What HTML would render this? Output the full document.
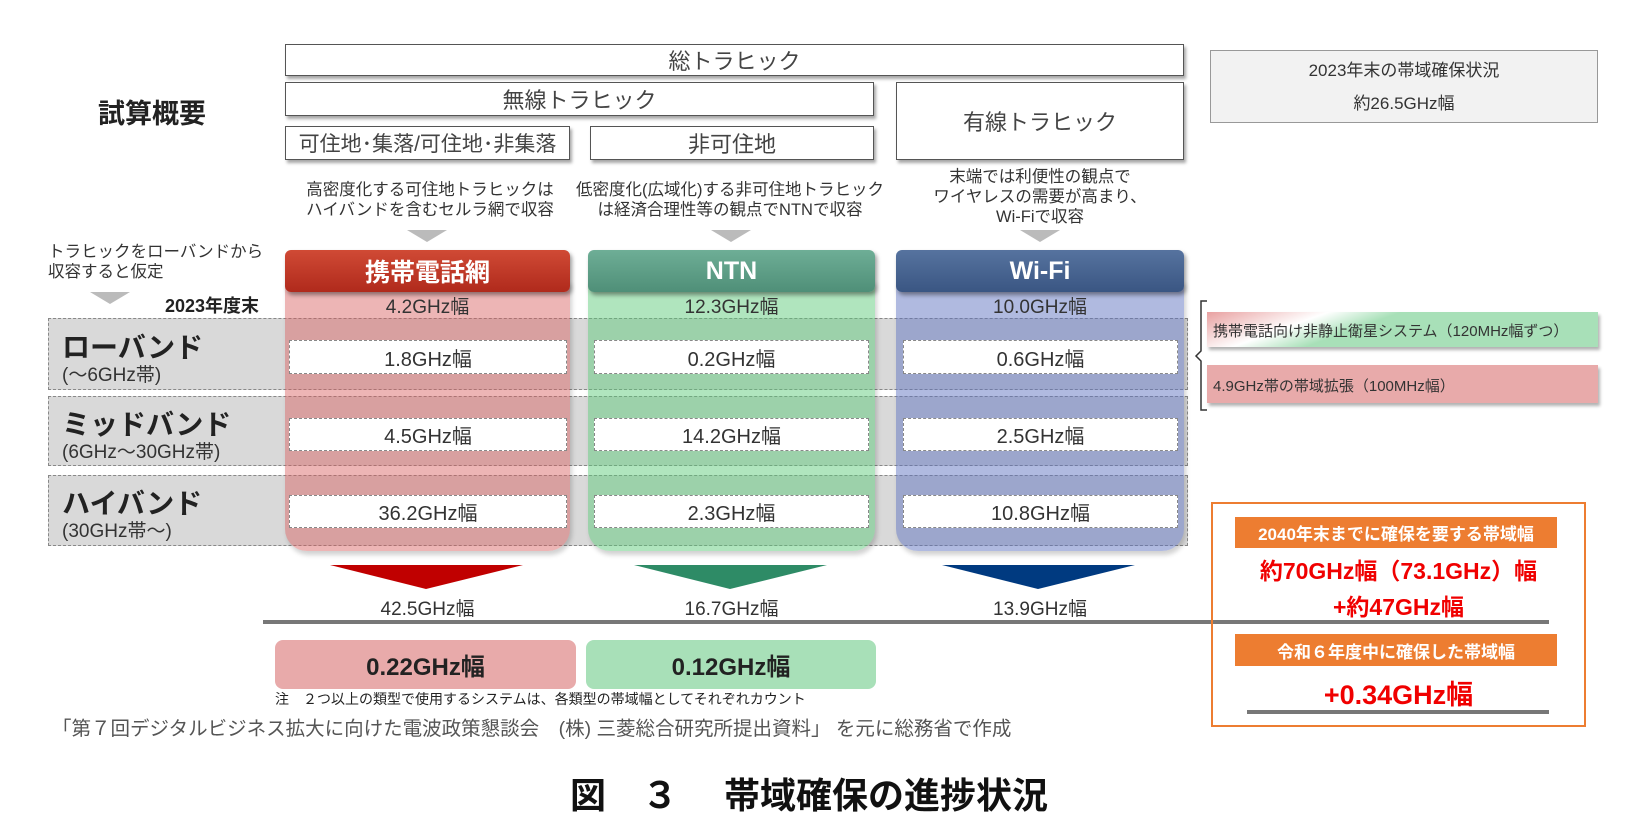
<!DOCTYPE html>
<html><head><meta charset="utf-8"><style>
body{margin:0;width:1638px;height:834px;background:#fff;position:relative;overflow:hidden;font-family:"Liberation Sans","Noto Sans CJK JP",sans-serif;color:#222}
.a{position:absolute;box-sizing:border-box}
.box{background:#fff;border:1.5px solid #555;box-shadow:2px 3px 3px rgba(0,0,0,.35);display:flex;align-items:center;justify-content:center;font-size:22px;color:#444}
.c{display:flex;align-items:center;justify-content:center;text-align:center}
.band{background:#d9d9d9;border:1px dashed #888}
.col{border-radius:0 0 22px 22px;box-shadow:2px 4px 5px rgba(0,0,0,.18)}
.hdr{border-radius:6px;color:#fff;font-size:25px;font-weight:bold;box-shadow:2px 3px 4px rgba(0,0,0,.4)}
.val{background:#fff;border:1px dashed #888;font-size:20px;color:#333}
.t{font-size:19px;color:#333}
.desc{font-size:16.5px;color:#333;line-height:20px;text-align:center}
.garr{width:0;height:0;border-left:20px solid transparent;border-right:20px solid transparent;border-top:12px solid #bbb}
</style></head><body>
<div class="a" style="left:98px;top:92px;font-size:27px;font-weight:bold;color:#222">試算概要</div>
<div class="a box" style="left:285px;top:44px;width:899px;height:32px">総トラヒック</div>
<div class="a box" style="left:285px;top:82px;width:589px;height:34px">無線トラヒック</div>
<div class="a box" style="left:896px;top:82px;width:288px;height:78px">有線トラヒック</div>
<div class="a box" style="left:285px;top:126px;width:285px;height:34px;font-size:21px">可住地･集落/可住地･非集落</div>
<div class="a box" style="left:590px;top:126px;width:284px;height:34px">非可住地</div>
<div class="a c" style="left:1210px;top:50px;width:388px;height:73px;background:#f2f2f2;border:1.5px solid #999;flex-direction:column;font-size:17px;color:#333;line-height:33px">2023年末の帯域確保状況<br>約26.5GHz幅</div>

<div class="a desc" style="left:280px;top:180px;width:300px">高密度化する可住地トラヒックは<br>ハイバンドを含むセルラ網で収容</div>
<div class="a desc" style="left:560px;top:180px;width:340px">低密度化(広域化)する非可住地トラヒック<br>は経済合理性等の観点でNTNで収容</div>
<div class="a desc" style="left:900px;top:167px;width:280px">末端では利便性の観点で<br>ワイヤレスの需要が高まり、<br>Wi-Fiで収容</div>
<div class="a garr" style="left:407px;top:230px"></div>
<div class="a garr" style="left:711px;top:230px"></div>
<div class="a garr" style="left:1020px;top:230px"></div>
<div class="a desc" style="left:48px;top:242px;width:230px;text-align:left">トラヒックをローバンドから<br>収容すると仮定</div>
<div class="a garr" style="left:90px;top:292px"></div>
<div class="a" style="left:165px;top:292px;font-size:18px;font-weight:bold">2023年度末</div>

<div class="a band" style="left:48px;top:318px;width:1140px;height:72px"></div>
<div class="a band" style="left:48px;top:396px;width:1140px;height:70px"></div>
<div class="a band" style="left:48px;top:475px;width:1140px;height:71px"></div>
<div class="a" style="left:62px;top:326px;font-size:28px;font-weight:bold;color:#222">ローバンド</div>
<div class="a" style="left:62px;top:360px;font-size:19px;color:#333">(～6GHz帯)</div>
<div class="a" style="left:62px;top:403px;font-size:28px;font-weight:bold;color:#222">ミッドバンド</div>
<div class="a" style="left:62px;top:437px;font-size:19px;color:#333">(6GHz～30GHz帯)</div>
<div class="a" style="left:62px;top:482px;font-size:28px;font-weight:bold;color:#222">ハイバンド</div>
<div class="a" style="left:62px;top:516px;font-size:19px;color:#333">(30GHz帯～)</div>

<div class="a col" style="left:285px;top:280px;width:285px;height:271px;background:rgba(215,90,90,.45)"></div>
<div class="a col" style="left:588px;top:280px;width:287px;height:271px;background:rgba(90,200,120,.48)"></div>
<div class="a col" style="left:896px;top:280px;width:288px;height:271px;background:rgba(90,110,190,.48)"></div>
<div class="a hdr c" style="left:285px;top:250px;width:285px;height:42px;background:linear-gradient(#d04a35,#b02a1c)">携帯電話網</div>
<div class="a hdr c" style="left:588px;top:250px;width:287px;height:42px;background:linear-gradient(#6eae96,#4f8f78)">NTN</div>
<div class="a hdr c" style="left:896px;top:250px;width:288px;height:42px;background:linear-gradient(#56739f,#3a5683)">Wi-Fi</div>

<div class="a t c" style="left:285px;top:292px;width:285px">4.2GHz幅</div>
<div class="a t c" style="left:588px;top:292px;width:287px">12.3GHz幅</div>
<div class="a t c" style="left:896px;top:292px;width:288px">10.0GHz幅</div>

<div class="a val c" style="left:289px;top:340px;width:278px;height:34px">1.8GHz幅</div>
<div class="a val c" style="left:594px;top:340px;width:275px;height:34px">0.2GHz幅</div>
<div class="a val c" style="left:903px;top:340px;width:275px;height:34px">0.6GHz幅</div>
<div class="a val c" style="left:289px;top:418px;width:278px;height:33px">4.5GHz幅</div>
<div class="a val c" style="left:594px;top:418px;width:275px;height:33px">14.2GHz幅</div>
<div class="a val c" style="left:903px;top:418px;width:275px;height:33px">2.5GHz幅</div>
<div class="a val c" style="left:289px;top:495px;width:278px;height:33px">36.2GHz幅</div>
<div class="a val c" style="left:594px;top:495px;width:275px;height:33px">2.3GHz幅</div>
<div class="a val c" style="left:903px;top:495px;width:275px;height:33px">10.8GHz幅</div>

<svg class="a" style="left:0;top:0" width="1638" height="834">
<polygon points="330,565 523,565 426,589" fill="#c00000"/>
<polygon points="634,565 827,565 730,589" fill="#2e8b66"/>
<polygon points="942,565 1135,565 1038,589" fill="#003a80"/>
<line x1="263" y1="622" x2="1549" y2="622" stroke="#777" stroke-width="4"/>
<line x1="1247" y1="712" x2="1549" y2="712" stroke="#777" stroke-width="4"/>
<path d="M1207,301 h-6 v50 l-5,5 l5,5 v49 h6" fill="none" stroke="#333" stroke-width="1.5"/>
</svg>
<div class="a t c" style="left:285px;top:594px;width:285px">42.5GHz幅</div>
<div class="a t c" style="left:588px;top:594px;width:287px">16.7GHz幅</div>
<div class="a t c" style="left:896px;top:594px;width:288px">13.9GHz幅</div>

<div class="a c" style="left:275px;top:640px;width:301px;height:49px;background:#e8aaaa;border-radius:8px;font-size:24px;font-weight:bold;color:#222">0.22GHz幅</div>
<div class="a c" style="left:586px;top:640px;width:290px;height:49px;background:#a8e0b8;border-radius:8px;font-size:24px;font-weight:bold;color:#222">0.12GHz幅</div>
<div class="a" style="left:275px;top:689px;font-size:14px;color:#222">注　２つ以上の類型で使用するシステムは、各類型の帯域幅としてそれぞれカウント</div>
<div class="a" style="left:52px;top:712px;font-size:19.5px;color:#555">「第７回デジタルビジネス拡大に向けた電波政策懇談会　(株) 三菱総合研究所提出資料」 を元に総務省で作成</div>

<div class="a" style="left:1207px;top:312px;width:391px;height:35px;background:linear-gradient(160deg,#e8a0a0 0%,#fff 25%,#a8e0b8 40%,#a8e0b8 100%);box-shadow:2px 3px 3px rgba(0,0,0,.3);font-size:15px;padding:8px 6px;color:#333">携帯電話向け非静止衛星システム（120MHz幅ずつ）</div>
<div class="a" style="left:1207px;top:365px;width:391px;height:38px;background:#e8aaaa;box-shadow:2px 3px 3px rgba(0,0,0,.3);font-size:15px;padding:10px 6px;color:#333">4.9GHz帯の帯域拡張（100MHz幅）</div>

<div class="a" style="left:1211px;top:502px;width:375px;height:225px;border:2.5px solid #ed7d31"></div>
<div class="a c" style="left:1235px;top:517px;width:322px;height:31px;background:#ed7d31;color:#fff;font-size:17px;font-weight:bold">2040年末までに確保を要する帯域幅</div>
<div class="a c" style="left:1215px;top:552px;width:367px;font-size:23px;font-weight:bold;color:#f00000">約70GHz幅（73.1GHz）幅</div>
<div class="a c" style="left:1215px;top:588px;width:367px;font-size:23px;font-weight:bold;color:#f00000">+約47GHz幅</div>
<div class="a c" style="left:1235px;top:634px;width:322px;height:32px;background:#ed7d31;color:#fff;font-size:17px;font-weight:bold">令和６年度中に確保した帯域幅</div>
<div class="a c" style="left:1215px;top:673px;width:367px;font-size:27px;font-weight:bold;color:#f00000">+0.34GHz幅</div>

<div class="a" style="left:570px;top:767px;font-size:36px;font-weight:bold;color:#111;white-space:pre">図　３　 帯域確保の進捗状況</div>
</body></html>
